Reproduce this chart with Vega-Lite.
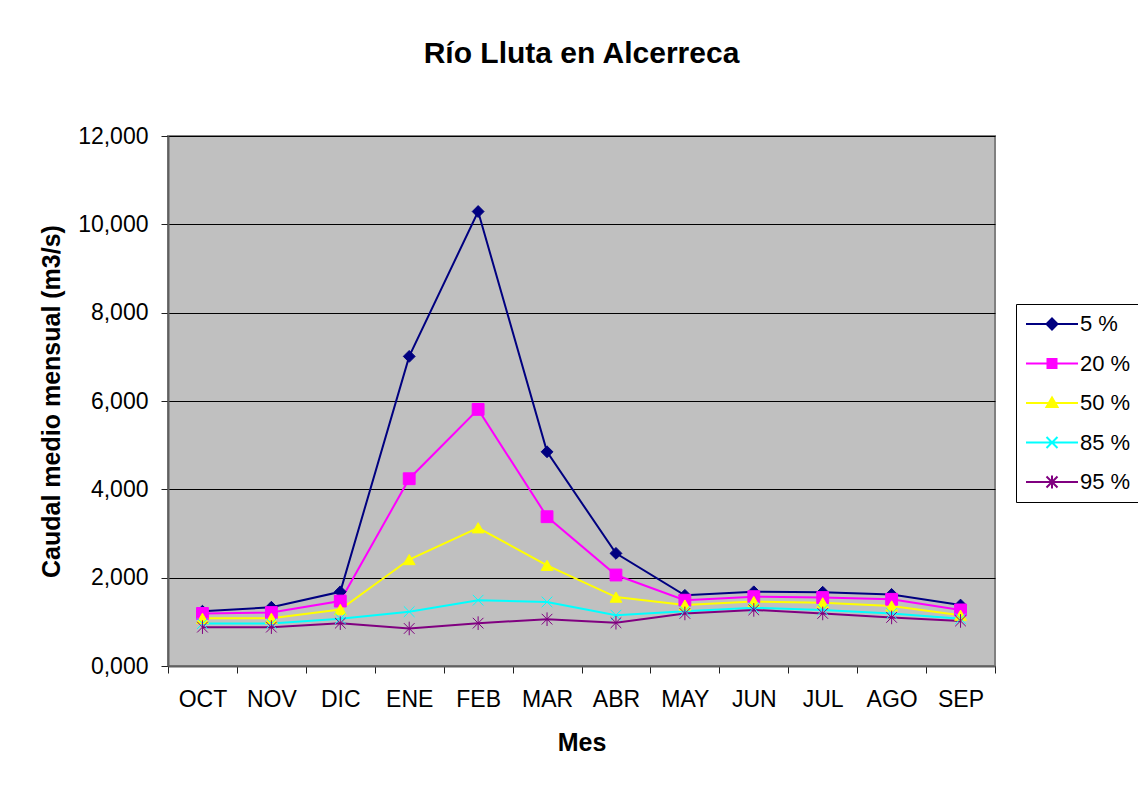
{
  "$schema": "https://vega.github.io/schema/vega-lite/v6.json",
  "autosize": "none",
  "width": 827,
  "height": 530,
  "padding": {"left": 168, "top": 136, "right": 143, "bottom": 119},
  "background": "white",
  "title": {
    "text": "Río Lluta en Alcerreca",
    "font": "Liberation Sans",
    "fontSize": 30,
    "fontWeight": "bold",
    "color": "black",
    "anchor": "middle",
    "offset": 56
  },
  "config": {
    "locale": {"number": {"decimal": ",", "thousands": ".", "grouping": [3], "currency": ["", ""]}},
    "view": {"fill": "#C0C0C0", "stroke": "#808080", "strokeWidth": 2},
    "axis": {
      "labelFont": "Liberation Sans",
      "titleFont": "Liberation Sans",
      "labelColor": "black",
      "titleColor": "black",
      "titleFontWeight": "bold",
      "titleFontSize": 25,
      "tickColor": "#202020",
      "tickSize": 7,
      "domainColor": "#606060",
      "domainWidth": 2
    }
  },
  "data": {
    "values": [
      {"mes": "OCT", "serie": "5 %", "caudal": 1.24},
      {"mes": "NOV", "serie": "5 %", "caudal": 1.33},
      {"mes": "DIC", "serie": "5 %", "caudal": 1.68},
      {"mes": "ENE", "serie": "5 %", "caudal": 7.01},
      {"mes": "FEB", "serie": "5 %", "caudal": 10.29},
      {"mes": "MAR", "serie": "5 %", "caudal": 4.85},
      {"mes": "ABR", "serie": "5 %", "caudal": 2.55},
      {"mes": "MAY", "serie": "5 %", "caudal": 1.6},
      {"mes": "JUN", "serie": "5 %", "caudal": 1.68},
      {"mes": "JUL", "serie": "5 %", "caudal": 1.67},
      {"mes": "AGO", "serie": "5 %", "caudal": 1.62},
      {"mes": "SEP", "serie": "5 %", "caudal": 1.38},
      {"mes": "OCT", "serie": "20 %", "caudal": 1.19},
      {"mes": "NOV", "serie": "20 %", "caudal": 1.21},
      {"mes": "DIC", "serie": "20 %", "caudal": 1.47},
      {"mes": "ENE", "serie": "20 %", "caudal": 4.24},
      {"mes": "FEB", "serie": "20 %", "caudal": 5.81},
      {"mes": "MAR", "serie": "20 %", "caudal": 3.38},
      {"mes": "ABR", "serie": "20 %", "caudal": 2.06},
      {"mes": "MAY", "serie": "20 %", "caudal": 1.49},
      {"mes": "JUN", "serie": "20 %", "caudal": 1.57},
      {"mes": "JUL", "serie": "20 %", "caudal": 1.55},
      {"mes": "AGO", "serie": "20 %", "caudal": 1.51},
      {"mes": "SEP", "serie": "20 %", "caudal": 1.27},
      {"mes": "OCT", "serie": "50 %", "caudal": 1.08},
      {"mes": "NOV", "serie": "50 %", "caudal": 1.08},
      {"mes": "DIC", "serie": "50 %", "caudal": 1.28},
      {"mes": "ENE", "serie": "50 %", "caudal": 2.41},
      {"mes": "FEB", "serie": "50 %", "caudal": 3.13},
      {"mes": "MAR", "serie": "50 %", "caudal": 2.28},
      {"mes": "ABR", "serie": "50 %", "caudal": 1.56},
      {"mes": "MAY", "serie": "50 %", "caudal": 1.38},
      {"mes": "JUN", "serie": "50 %", "caudal": 1.46},
      {"mes": "JUL", "serie": "50 %", "caudal": 1.43},
      {"mes": "AGO", "serie": "50 %", "caudal": 1.36},
      {"mes": "SEP", "serie": "50 %", "caudal": 1.15},
      {"mes": "OCT", "serie": "85 %", "caudal": 0.96},
      {"mes": "NOV", "serie": "85 %", "caudal": 0.96},
      {"mes": "DIC", "serie": "85 %", "caudal": 1.07},
      {"mes": "ENE", "serie": "85 %", "caudal": 1.23},
      {"mes": "FEB", "serie": "85 %", "caudal": 1.49},
      {"mes": "MAR", "serie": "85 %", "caudal": 1.45},
      {"mes": "ABR", "serie": "85 %", "caudal": 1.15},
      {"mes": "MAY", "serie": "85 %", "caudal": 1.24},
      {"mes": "JUN", "serie": "85 %", "caudal": 1.32},
      {"mes": "JUL", "serie": "85 %", "caudal": 1.27},
      {"mes": "AGO", "serie": "85 %", "caudal": 1.19},
      {"mes": "SEP", "serie": "85 %", "caudal": 1.07},
      {"mes": "OCT", "serie": "95 %", "caudal": 0.88},
      {"mes": "NOV", "serie": "95 %", "caudal": 0.88},
      {"mes": "DIC", "serie": "95 %", "caudal": 0.97},
      {"mes": "ENE", "serie": "95 %", "caudal": 0.85},
      {"mes": "FEB", "serie": "95 %", "caudal": 0.97},
      {"mes": "MAR", "serie": "95 %", "caudal": 1.06},
      {"mes": "ABR", "serie": "95 %", "caudal": 0.98},
      {"mes": "MAY", "serie": "95 %", "caudal": 1.19},
      {"mes": "JUN", "serie": "95 %", "caudal": 1.27},
      {"mes": "JUL", "serie": "95 %", "caudal": 1.19},
      {"mes": "AGO", "serie": "95 %", "caudal": 1.1},
      {"mes": "SEP", "serie": "95 %", "caudal": 1.02}
    ]
  },
  "encoding": {
    "x": {
      "field": "mes",
      "type": "nominal",
      "sort": ["OCT", "NOV", "DIC", "ENE", "FEB", "MAR", "ABR", "MAY", "JUN", "JUL", "AGO", "SEP"],
      "scale": {"type": "band", "paddingInner": 0, "paddingOuter": 0},
      "bandPosition": 0.5,
      "axis": {
        "title": "Mes",
        "labelAngle": 0,
        "labelFontSize": 23,
        "labelPadding": 15,
        "titlePadding": 19,
        "tickBand": "extent",
        "grid": false
      }
    },
    "y": {
      "field": "caudal",
      "type": "quantitative",
      "scale": {"domain": [0, 12], "nice": false},
      "axis": {
        "title": "Caudal medio mensual (m3/s)",
        "values": [0, 2, 4, 6, 8, 10, 12],
        "format": ".3f",
        "labelFontSize": 23,
        "labelPadding": 13,
        "titlePadding": 13,
        "grid": true,
        "gridColor": "black",
        "gridWidth": 1
      }
    }
  },
  "layer": [
    {
      "mark": {"type": "line", "strokeWidth": 2},
      "encoding": {
        "color": {
          "field": "serie",
          "type": "nominal",
          "scale": {"domain": ["5 %", "20 %", "50 %", "85 %", "95 %"], "range": ["#000080", "#FF00FF", "#FFFF00", "#00FFFF", "#800080"]},
          "legend": null
        }
      }
    },
    {
      "mark": {"type": "point", "filled": true, "opacity": 1, "size": 140},
      "encoding": {
        "fill": {
          "field": "serie",
          "type": "nominal",
          "scale": {"domain": ["5 %", "20 %", "50 %", "85 %", "95 %"], "range": ["#000080", "#FF00FF", "#FFFF00", "#00FFFF", "#800080"]},
          "legend": null
        },
        "stroke": {
          "field": "serie",
          "type": "nominal",
          "scale": {"domain": ["5 %", "20 %", "50 %", "85 %", "95 %"], "range": ["#000080", "#FF00FF", "#FFFF00", "#00FFFF", "#800080"]},
          "legend": null
        },
        "strokeWidth": {
          "field": "serie",
          "type": "nominal",
          "scale": {"domain": ["5 %", "20 %", "50 %", "85 %", "95 %"], "range": [1, 1, 1, 2, 2]},
          "legend": null
        },
        "shape": {
          "field": "serie",
          "type": "nominal",
          "scale": {"domain": ["5 %", "20 %", "50 %", "85 %", "95 %"], "range": ["diamond", "square", "triangle-up", "M-0.9,-0.9L0.9,0.9M-0.9,0.9L0.9,-0.9", "M-0.9,-0.9L0.9,0.9M-0.9,0.9L0.9,-0.9M0,-1.15L0,1.15"]},
          "legend": null
        }
      }
    },
    {
      "transform": [{"filter": "datum.caudal < 0"}],
      "mark": {"type": "point", "filled": true, "opacity": 1},
      "encoding": {
        "fill": {
          "field": "serie",
          "type": "nominal",
          "scale": {"domain": ["5 %", "20 %", "50 %", "85 %", "95 %"], "range": ["#000080", "#FF00FF", "#FFFF00", "#00FFFF", "#800080"]},
          "legend": {"title": null, "orient": "none", "legendX": 848, "legendY": 168, "symbolSize": 400, "symbolStrokeWidth": 2, "symbolOpacity": 1, "labelOffset": 33, "labelFontSize": 22, "labelFont": "Liberation Sans", "labelColor": "black", "rowPadding": 17.5, "padding": 9, "strokeColor": "black", "fillColor": "white"}
        },
        "stroke": {
          "field": "serie",
          "type": "nominal",
          "scale": {"domain": ["5 %", "20 %", "50 %", "85 %", "95 %"], "range": ["#000080", "#FF00FF", "#FFFF00", "#00FFFF", "#800080"]},
          "legend": {"title": null, "orient": "none", "legendX": 848, "legendY": 168, "symbolSize": 400, "symbolStrokeWidth": 2, "symbolOpacity": 1, "labelOffset": 33, "labelFontSize": 22, "labelFont": "Liberation Sans", "labelColor": "black", "rowPadding": 17.5, "padding": 9, "strokeColor": "black", "fillColor": "white"}
        },
        "shape": {
          "field": "serie",
          "type": "nominal",
          "scale": {"domain": ["5 %", "20 %", "50 %", "85 %", "95 %"], "range": [
            "M-1,0H4.2M1.6,-0.55L2.15,0L1.6,0.55L1.05,0Z",
            "M-1,0H4.2M1.15,-0.45H2.05V0.45H1.15Z",
            "M-1,0H4.2M1.6,-0.55L2.15,0.4H1.05Z",
            "M-1,0H4.2M1.05,-0.55L2.15,0.55M1.05,0.55L2.15,-0.55",
            "M-1,0H4.2M1.05,-0.55L2.15,0.55M1.05,0.55L2.15,-0.55M1.6,-0.65V0.65"
          ]},
          "legend": {"title": null, "orient": "none", "legendX": 848, "legendY": 168, "symbolSize": 400, "symbolStrokeWidth": 2, "symbolOpacity": 1, "labelOffset": 33, "labelFontSize": 22, "labelFont": "Liberation Sans", "labelColor": "black", "rowPadding": 17.5, "padding": 9, "strokeColor": "black", "fillColor": "white"}
        }
      }
    }
  ],
  "resolve": {"scale": {"fill": "independent", "stroke": "independent", "shape": "independent", "strokeWidth": "independent"}}
}
